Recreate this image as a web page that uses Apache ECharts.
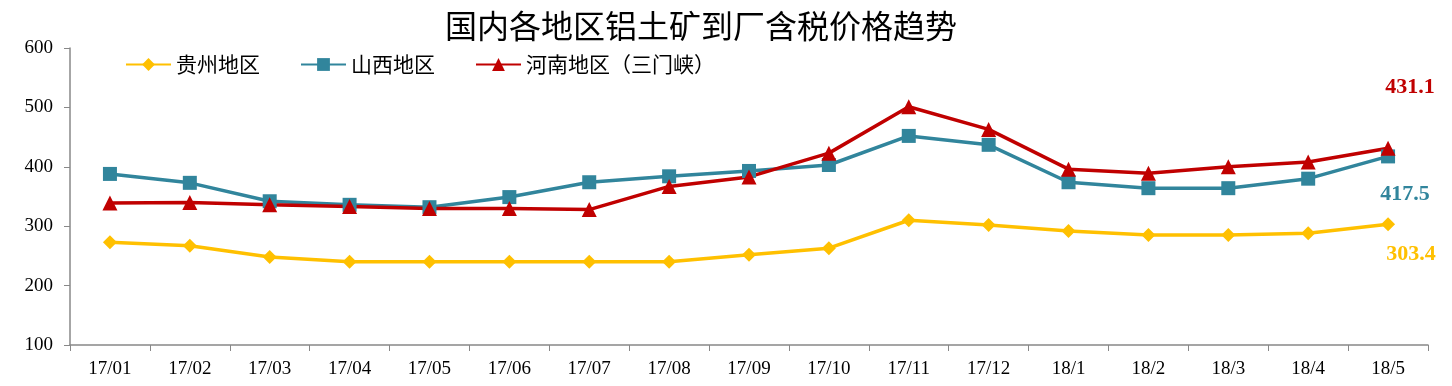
<!DOCTYPE html>
<html><head><meta charset="utf-8">
<script src="https://cdn.jsdelivr.net/npm/echarts@6/dist/echarts.min.js"></script>
<style>html,body{margin:0;padding:0;background:#fff}#c{width:1452px;height:386px}</style>
</head><body><div id="c"></div>
<script>
const categories = ['17/01','17/02','17/03','17/04','17/05','17/06','17/07','17/08','17/09','17/10','17/11','17/12','18/1','18/2','18/3','18/4','18/5'];
const guizhou = [273,267,248,240,240,240,240,240,252,263,310,302,292,285,285,288,303.4];
const shanxi = [388,373,342,336,332,349,374,384,393,403,452,437,374,364,364,380,417.5];
const henan = [339,340,336,333,330,330,328,367,383,423,501,463,396,389,400,408,431.1];
const seriesNames = ['贵州地区','山西地区','河南地区（三门峡）'];
const yTicks = {min:100, max:600, interval:100};

const colors = ['#FFC000','#31859C','#C00000'];
function withEndLabel(arr, color, offset){
  return arr.map((v,i)=> i===arr.length-1 ? {value:v, label:{show:true, formatter:String(v), color:color, fontFamily:'Liberation Serif', fontWeight:'bold', fontSize:22, position:'inside', offset:offset}} : v);
}
const chart = echarts.init(document.getElementById('c'));
chart.setOption({
  animation:false,
  title:{text:'国内各地区铝土矿到厂含税价格趋势', left:440, top:5, textStyle:{fontFamily:'Noto Sans CJK SC', fontWeight:'normal', fontSize:32, color:'#000'}},
  legend:{top:49, left:120, itemGap:40, itemWidth:45, itemHeight:16, textStyle:{fontFamily:'Noto Sans CJK SC', fontSize:21, color:'#000'}, data:seriesNames},
  grid:{left:70, right:24, top:48, bottom:41},
  xAxis:{type:'category', data:categories, boundaryGap:true,
    axisLine:{lineStyle:{color:'#888', width:1.5}}, axisTick:{show:true, length:6, lineStyle:{color:'#888'}},
    axisLabel:{fontFamily:'Liberation Serif', fontSize:19, color:'#000', margin:15}},
  yAxis:{type:'value', min:yTicks.min, max:yTicks.max, interval:yTicks.interval,
    axisLine:{show:true, lineStyle:{color:'#888', width:1.5}}, axisTick:{show:true, length:6, inside:false, lineStyle:{color:'#888'}},
    splitLine:{show:false},
    axisLabel:{fontFamily:'Liberation Serif', fontSize:19, color:'#000', margin:17}},
  series:[
    {name:seriesNames[0], type:'line', data:withEndLabel(guizhou, colors[0], [23,30]), color:colors[0], symbol:'diamond', symbolSize:14, lineStyle:{width:3.5}, itemStyle:{color:colors[0]}},
    {name:seriesNames[1], type:'line', data:withEndLabel(shanxi, colors[1], [17,38]), color:colors[1], symbol:'rect', symbolSize:14, lineStyle:{width:3.5}, itemStyle:{color:colors[1]}},
    {name:seriesNames[2], type:'line', data:withEndLabel(henan, colors[2], [22,-61]), color:colors[2], symbol:'triangle', symbolSize:15, lineStyle:{width:3.5}, itemStyle:{color:colors[2]}}
  ]
});
</script></body></html>
